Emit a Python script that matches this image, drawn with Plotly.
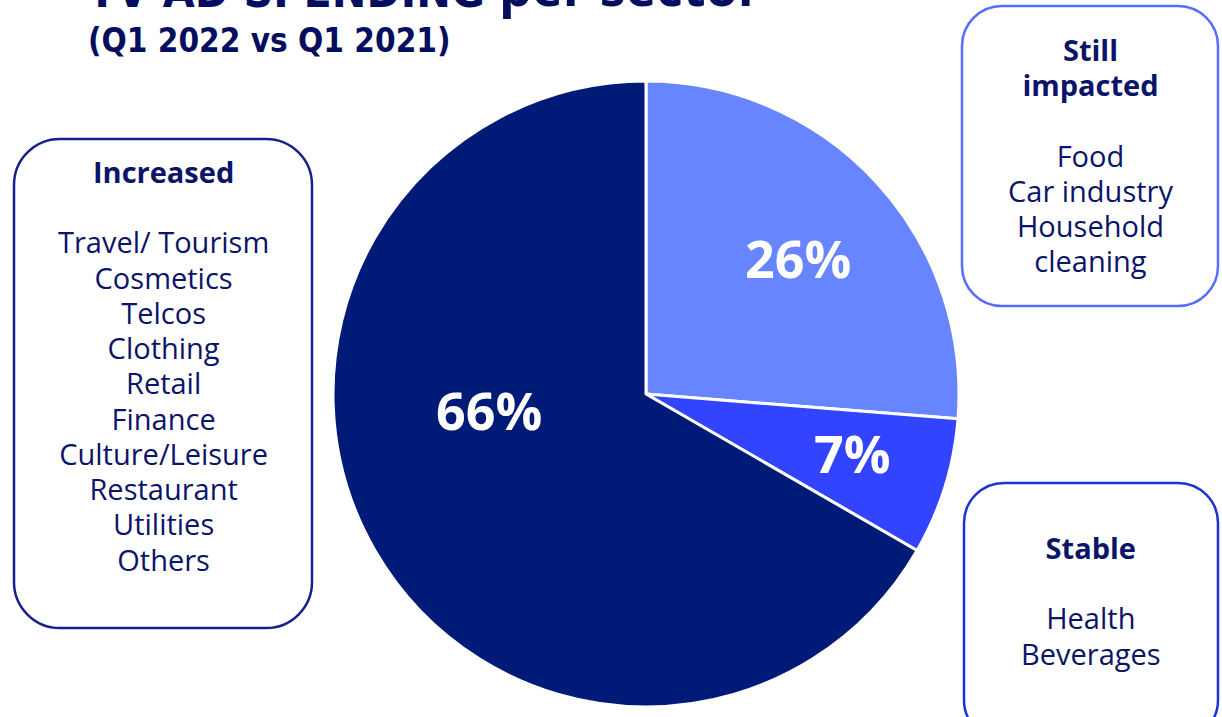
import plotly.graph_objects as go

# ---- data ----
segments = ["Still impacted", "Stable", "Increased"]
shares = [26, 7, 66]
slice_colors = ["#6685ff", "#3344ff", "#001a78"]

title_caps = "TV AD SPENDING"
title_lower = "per sector"
title_line2 = "(Q1 2022 vs Q1 2021)"

increased_sectors = ["Travel/ Tourism", "Cosmetics", "Telcos", "Clothing", "Retail",
                     "Finance", "Culture/Leisure", "Restaurant", "Utilities", "Others"]
impacted_sectors = ["Food", "Car industry", "Household", "cleaning"]
stable_sectors = ["Health", "Beverages"]

# ---- style / layout (pixels) ----
W, H = 1222, 717
NAVY = "#0b1468"
TITLE = "#050d5e"
LABEL_POS = [(798, 257), (852, 452), (489, 409)]  # label centers for the pie slices


def px(x):
    return x / W


def py(y):
    return 1 - y / H


def rounded_rect(x0, y0, x1, y1, r):
    k = 0.5523 * r
    pts = [
        f"M {px(x0 + r)},{py(y0)}",
        f"L {px(x1 - r)},{py(y0)}",
        f"C {px(x1 - r + k)},{py(y0)} {px(x1)},{py(y0 + r - k)} {px(x1)},{py(y0 + r)}",
        f"L {px(x1)},{py(y1 - r)}",
        f"C {px(x1)},{py(y1 - r + k)} {px(x1 - r + k)},{py(y1)} {px(x1 - r)},{py(y1)}",
        f"L {px(x0 + r)},{py(y1)}",
        f"C {px(x0 + r - k)},{py(y1)} {px(x0)},{py(y1 - r + k)} {px(x0)},{py(y1 - r)}",
        f"L {px(x0)},{py(y0 + r)}",
        f"C {px(x0)},{py(y0 + r - k)} {px(x0 + r - k)},{py(y0)} {px(x0 + r)},{py(y0)}",
        "Z",
    ]
    return " ".join(pts)


fig = go.Figure()
fig.add_trace(go.Pie(
    labels=segments,
    values=shares,
    sort=False,
    direction="clockwise",
    rotation=0,
    marker=dict(colors=slice_colors, line=dict(color="white", width=3)),
    textinfo="none",
    domain=dict(x=[px(333), px(959)], y=[py(707), py(81)]),
    showlegend=False,
    hoverinfo="label+percent",
))

shapes = [
    dict(type="path", path=rounded_rect(14, 139, 312, 628, 46), xref="paper", yref="paper",
         line=dict(color="#16228a", width=2.5), fillcolor="rgba(0,0,0,0)"),
    dict(type="path", path=rounded_rect(962, 6, 1218, 306, 40), xref="paper", yref="paper",
         line=dict(color="#5a6cff", width=2.5), fillcolor="rgba(0,0,0,0)"),
    dict(type="path", path=rounded_rect(964, 483, 1218, 740, 40), xref="paper", yref="paper",
         line=dict(color="#1d33d8", width=2.5), fillcolor="rgba(0,0,0,0)"),
]

annotations = []

# pie percentage labels (text from the data)
for val, (lx, ly) in zip(shares, LABEL_POS):
    annotations.append(dict(
        x=px(lx), y=py(ly), xref="paper", yref="paper", xanchor="center", yanchor="middle",
        text=f"<b>{val}%</b>", showarrow=False,
        font=dict(family="Open Sans", size=52, color="white"),
    ))


def big(t):
    return '<span style="font-size:29px">' + t + "</span>"


def box_text(x, y_top, headers, items):
    lines = ["<b>" + big(h) + "</b>" for h in headers] + [""] + [big(it) for it in items]
    annotations.append(dict(
        x=px(x), y=py(y_top), xref="paper", yref="paper", xanchor="center", yanchor="top",
        text="<br>".join(lines), showarrow=False, align="center",
        font=dict(family="Open Sans", size=27.1, color=NAVY),
    ))


box_text(163, 150, ["Increased"], increased_sectors)
box_text(1090, 28, ["Still", "impacted"], impacted_sectors)
box_text(1091, 526, ["Stable"], stable_sectors)

TITLE_FONT = "DejaVu Sans Condensed, Liberation Sans Narrow, Arial Narrow, Liberation Sans, sans-serif"
# first title line (mostly above the top edge, as in the reference)
annotations.append(dict(
    x=px(86), y=py(20), xref="paper", yref="paper", xanchor="left", yanchor="bottom",
    text="<b>" + title_caps + "</b>", showarrow=False,
    font=dict(family=TITLE_FONT, size=46, color=TITLE),
))
annotations.append(dict(
    x=px(497), y=py(-15), xref="paper", yref="paper", xanchor="left", yanchor="middle",
    text="<b>" + title_lower + "</b>", showarrow=False,
    font=dict(family="Open Sans", size=52, color=TITLE),
))
annotations.append(dict(
    x=px(86), y=py(41), xref="paper", yref="paper", xanchor="left", yanchor="middle",
    text="<b>" + title_line2 + "</b>", showarrow=False,
    font=dict(family=TITLE_FONT, size=33, color=TITLE),
))

fig.update_layout(
    width=W, height=H,
    margin=dict(l=0, r=0, t=0, b=0),
    paper_bgcolor="white", plot_bgcolor="white",
    shapes=shapes, annotations=annotations,
)

fig.write_html("out.html")
